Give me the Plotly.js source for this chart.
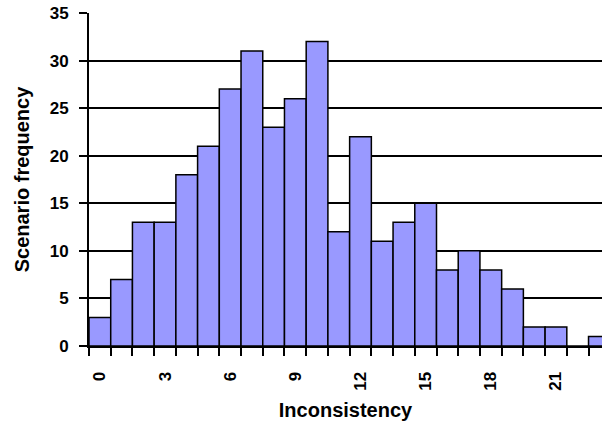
<!DOCTYPE html>
<html>
<head>
<meta charset="utf-8">
<script src="https://cdn.plot.ly/plotly-3.0.1.min.js"></script>
<style>html,body{margin:0;padding:0;background:#fff;}#chart{width:602px;height:426px;}</style>
</head>
<body>
<div id="chart"></div>
<script>
const inconsistency = [0,1,2,3,4,5,6,7,8,9,10,11,12,13,14,15,16,17,18,19,20,21,22,23];
const frequency = [3,7,13,13,18,21,27,31,23,26,32,12,22,11,13,15,8,10,8,6,2,2,0,1];
const xTickVals = [0,3,6,9,12,15,18,21];
const xTickText = ['0','3','6','9','12','15','18','21'];

const FONT = 'Liberation Sans';

const trace = {
  type: 'bar',
  x: inconsistency,
  y: frequency,
  width: 1,
  marker: {color: '#9999FF', line: {color: '#000000', width: 1.5}},
  hoverinfo: 'x+y'
};

const layout = {
  width: 602, height: 426,
  margin: {l: 89, r: 0, t: 13, b: 80},
  paper_bgcolor: '#ffffff', plot_bgcolor: '#ffffff',
  font: {family: FONT, color: '#000', size: 17, weight: 700},
  showlegend: false,
  bargap: 0,
  xaxis: {
    range: [-0.5, 23.12],
    tickvals: xTickVals, ticktext: xTickText,
    tickangle: -90,
    ticks: '',
    ticklabelstandoff: 17,
    tickfont: {size: 17, family: FONT, weight: 700, color: '#000'},
    showgrid: false, zeroline: false,
    showline: true, linecolor: '#000', linewidth: 2,
    minor: {tick0: 0.5, dtick: 1, ticks: 'outside', ticklen: 8, tickwidth: 2, tickcolor: '#000', showgrid: false},
    title: {text: 'Inconsistency', font: {size: 20, family: FONT, weight: 700}, standoff: 13}
  },
  yaxis: {
    range: [0, 35], dtick: 5,
    ticks: 'outside', ticklen: 8, tickwidth: 2, tickcolor: '#000',
    ticklabelstandoff: 7,
    tickfont: {size: 17, family: FONT, weight: 700, color: '#000'},
    showgrid: true, gridcolor: '#000', gridwidth: 2,
    zeroline: false,
    showline: true, linecolor: '#000', linewidth: 2,
    title: {text: 'Scenario frequency', font: {size: 20, family: FONT, weight: 700}, standoff: 15}
  }
};

Plotly.newPlot('chart', [trace], layout, {displayModeBar: false, staticPlot: true});
</script>
</body>
</html>
